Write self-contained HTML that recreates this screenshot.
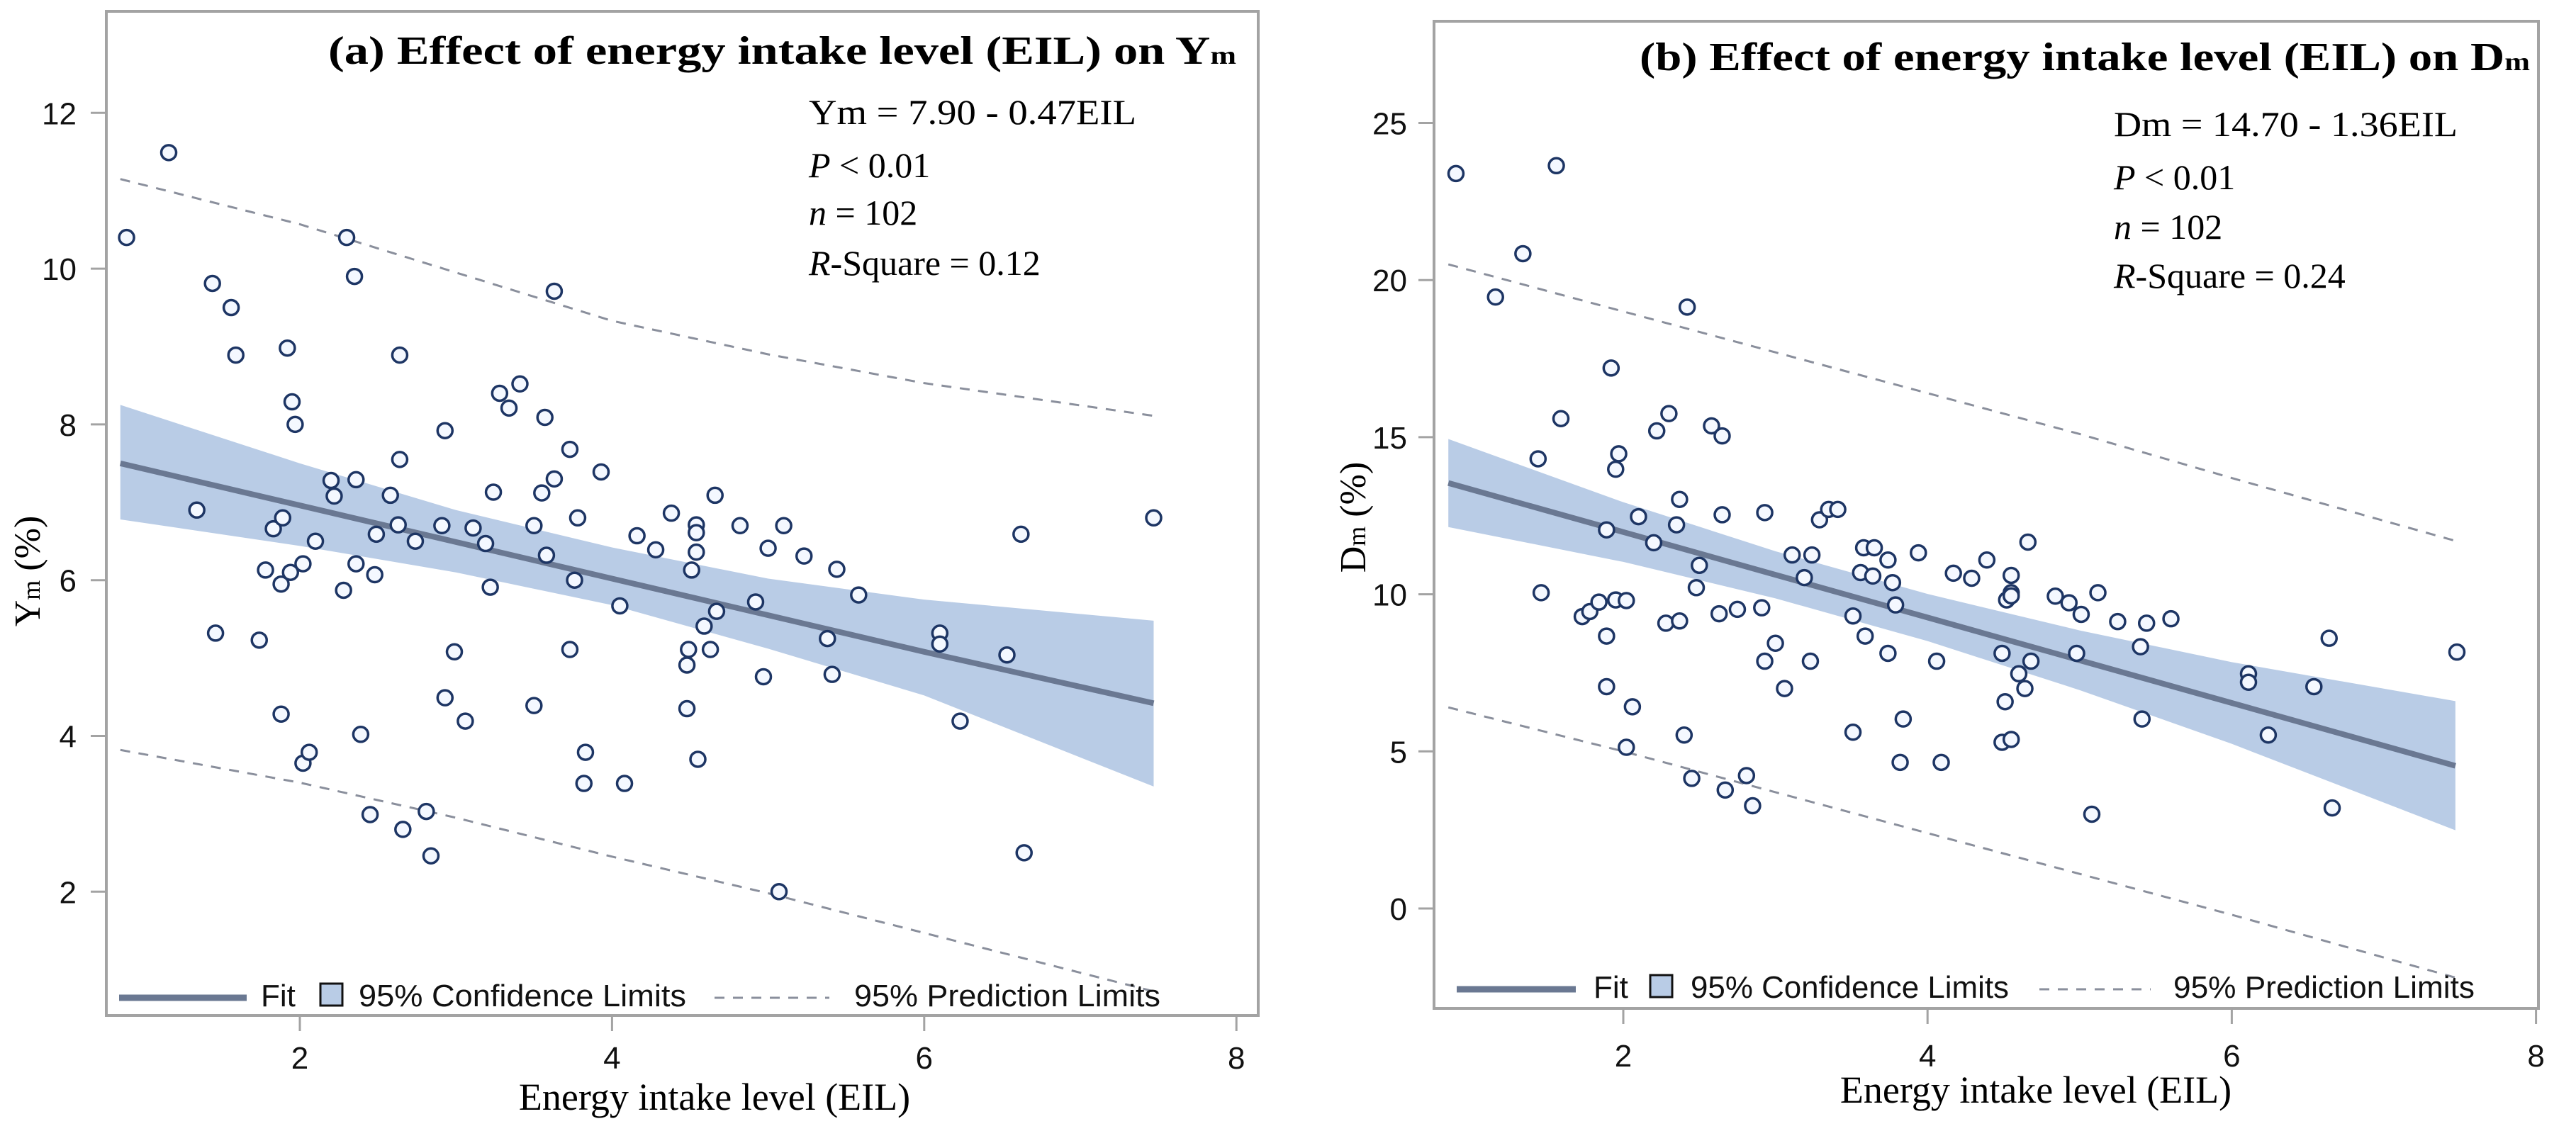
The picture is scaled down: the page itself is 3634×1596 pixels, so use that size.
<!DOCTYPE html>
<html><head><meta charset="utf-8"><style>
html,body{margin:0;padding:0;background:#fff;}
svg{display:block;}
</style></head><body>
<svg id="chart" width="3634" height="1596" viewBox="0 0 3634 1596" xmlns="http://www.w3.org/2000/svg">
<rect width="3634" height="1596" fill="#fff"/>
<defs>
<clipPath id="clipA"><rect x="152" y="18" width="1621" height="1413"/></clipPath>
<clipPath id="clipB"><rect x="2025" y="32" width="1554" height="1389"/></clipPath>
</defs>
<g id="panelA"></g>
<g id="panelB"></g>

<text x="463" y="90" font-family="Liberation Serif, serif" font-weight="bold" font-size="56" textLength="1281" lengthAdjust="spacingAndGlyphs">(a) Effect of energy intake level (EIL) on Y<tspan font-size="36">m</tspan></text>
<g font-family="Liberation Serif, serif" font-size="50" fill="#000">
<text x="1141" y="175" textLength="462" lengthAdjust="spacingAndGlyphs">Ym = 7.90 - 0.47EIL</text>
<text x="1141" y="250"><tspan font-style="italic">P</tspan> &lt; 0.01</text>
<text x="1141" y="317"><tspan font-style="italic">n</tspan> = 102</text>
<text x="1141" y="388"><tspan font-style="italic">R</tspan>-Square = 0.12</text>
</g>
<text transform="translate(56,806) rotate(-90)" text-anchor="middle" font-family="Liberation Serif, serif" font-size="52">Y<tspan font-size="36">m</tspan> (%)</text>
<text x="1008" y="1566" text-anchor="middle" font-family="Liberation Serif, serif" font-size="54">Energy intake level (EIL)</text>

<text x="2313" y="99" font-family="Liberation Serif, serif" font-weight="bold" font-size="56" textLength="1256" lengthAdjust="spacingAndGlyphs">(b) Effect of energy intake level (EIL) on D<tspan font-size="36">m</tspan></text>
<g font-family="Liberation Serif, serif" font-size="50" fill="#000">
<text x="2982" y="192" textLength="485" lengthAdjust="spacingAndGlyphs">Dm = 14.70 - 1.36EIL</text>
<text x="2982" y="267"><tspan font-style="italic">P</tspan> &lt; 0.01</text>
<text x="2982" y="337"><tspan font-style="italic">n</tspan> = 102</text>
<text x="2982" y="406"><tspan font-style="italic">R</tspan>-Square = 0.24</text>
</g>
<text transform="translate(1926,730) rotate(-90)" text-anchor="middle" font-family="Liberation Serif, serif" font-size="52">D<tspan font-size="36">m</tspan> (%)</text>
<text x="2872" y="1556" text-anchor="middle" font-family="Liberation Serif, serif" font-size="54">Energy intake level (EIL)</text>
</svg>
<script>
// ---------- data ----------
const xTicks = [2, 4, 6, 8];
const yTicksA = [2, 4, 6, 8, 10, 12];
const yTicksB = [0, 5, 10, 15, 20, 25];

const eilA = [0.89,1.16,1.34,1.44,1.46,1.56,1.59,1.74,1.78,1.83,1.89,1.88,1.88,1.92,1.94,1.95,1.97,2.02,2.02,2.06,2.10,2.20,2.22,2.28,2.30,2.35,2.36,2.36,2.39,2.45,2.48,2.49,2.58,2.63,2.64,2.64,2.66,2.74,2.81,2.84,2.91,2.93,2.93,2.99,3.06,3.11,3.19,3.22,3.24,3.28,3.34,3.41,3.50,3.50,3.55,3.57,3.58,3.63,3.63,3.73,3.73,3.76,3.78,3.82,3.83,3.93,4.05,4.08,4.16,4.28,4.38,4.48,4.48,4.49,4.51,4.54,4.54,4.54,4.55,4.59,4.63,4.66,4.67,4.82,4.92,4.97,5.00,5.07,5.10,5.23,5.38,5.41,5.44,5.58,6.10,6.10,6.23,6.53,6.62,6.64,7.47];
const ymA = [10.40,11.49,6.90,9.81,5.32,9.50,8.89,5.23,6.13,6.66,6.80,5.95,4.28,8.98,6.10,8.29,8.00,3.65,6.21,3.79,6.50,7.28,7.08,5.87,10.40,9.90,7.29,6.21,4.02,2.99,6.07,6.59,7.09,6.71,7.55,8.89,2.80,6.50,3.03,2.46,6.70,7.92,4.49,5.08,4.19,6.67,6.47,5.91,7.13,8.40,8.21,8.52,6.70,4.39,7.12,8.09,6.32,7.30,9.71,5.11,7.68,6.00,6.80,3.39,3.79,7.39,5.67,3.39,6.57,6.39,6.86,4.91,4.35,5.11,6.13,6.71,6.61,6.36,3.70,5.41,5.11,7.09,5.60,6.70,5.72,4.76,6.41,2.00,6.70,6.31,5.25,4.79,6.14,5.81,5.32,5.18,4.19,5.04,6.59,2.50,6.80];

const eilB = [0.90,1.16,1.34,1.44,1.46,1.56,1.59,1.73,1.78,1.84,1.89,1.89,1.89,1.92,1.95,1.95,1.97,2.02,2.02,2.06,2.10,2.20,2.22,2.28,2.30,2.37,2.35,2.37,2.40,2.42,2.45,2.48,2.50,2.58,2.63,2.65,2.65,2.67,2.75,2.81,2.85,2.91,2.93,2.93,3.00,3.06,3.11,3.19,3.23,3.24,3.29,3.35,3.41,3.51,3.51,3.56,3.58,3.59,3.64,3.65,3.74,3.74,3.77,3.79,3.82,3.84,3.94,4.06,4.09,4.17,4.29,4.39,4.49,4.49,4.51,4.52,4.55,4.55,4.55,4.60,4.64,4.66,4.68,4.84,4.93,4.98,5.01,5.08,5.12,5.25,5.40,5.41,5.44,5.60,6.11,6.11,6.24,6.54,6.64,6.66,7.48,4.55];
const dmB = [23.39,19.46,20.84,14.31,10.05,23.64,15.59,9.29,9.45,9.75,12.05,8.67,7.06,17.20,9.82,13.98,14.47,5.13,9.80,6.42,12.47,11.64,15.20,9.08,15.75,13.02,12.21,9.15,5.52,19.14,4.14,10.21,10.92,15.36,9.38,15.04,12.53,3.77,9.52,4.23,3.27,9.57,12.60,7.87,8.44,7.00,11.25,10.53,7.87,11.25,12.37,12.70,12.70,9.31,5.61,10.69,11.48,8.67,10.58,11.48,8.12,11.09,10.37,9.66,4.65,6.03,11.32,7.87,4.65,10.67,10.51,11.09,8.12,5.29,6.58,9.82,10.05,10.60,5.38,7.47,7.00,11.66,7.87,9.94,9.73,8.12,9.36,3.00,10.05,9.13,8.33,6.03,9.08,9.22,7.47,7.20,5.52,7.06,8.60,3.20,8.16,9.95];

const bandX = [0.85, 2, 3, 4, 5, 6, 7.47];
const fitA = [7.50, 6.96, 6.49, 6.02, 5.55, 5.08, 4.42];
const ciUpA = [8.25, 7.50, 6.90, 6.42, 6.02, 5.75, 5.48];
const ciLoA = [6.78, 6.44, 6.10, 5.68, 5.12, 4.52, 3.35];
const piUpA = [11.15, 10.57, 9.95, 9.33, 8.90, 8.53, 8.11];
const piLoA = [3.82, 3.40, 2.95, 2.45, 1.98, 1.47, 0.72];

const fitB = [13.54, 11.98, 10.62, 9.26, 7.90, 6.54, 4.54];
const ciUpB = [14.94, 12.93, 11.37, 10.01, 8.85, 7.84, 6.60];
const ciLoB = [12.14, 11.03, 9.87, 8.51, 6.95, 5.24, 2.49];
const piUpB = [20.5, 19.0, 17.7, 16.4, 15.1, 13.7, 11.7];
const piLoB = [6.4, 5.0, 3.7, 2.4, 1.1, -0.2, -2.2];

// ---------- drawing ----------
const NS = 'http://www.w3.org/2000/svg';
function mk(tag, attrs, parent) {
  const e = document.createElementNS(NS, tag);
  for (const k in attrs) e.setAttribute(k, attrs[k]);
  parent.appendChild(e);
  return e;
}

function drawPanel(g, cfg) {
  const X = v => cfg.x0 + (v - cfg.xv0) * cfg.xs;
  const Y = v => cfg.y0 - (v - cfg.yv0) * cfg.ys;
  const plot = mk('g', {'clip-path': cfg.clip}, g);
  
  

  // confidence band
  let d = bandX.map((x, i) => (i ? 'L' : 'M') + X(x) + ',' + Y(cfg.ciUp[i])).join(' ');
  for (let i = bandX.length - 1; i >= 0; i--) d += ' L' + X(bandX[i]) + ',' + Y(cfg.ciLo[i]);
  const band = mk('path', {d: d + ' Z', fill: '#b9cce6', stroke: 'none'}, plot);
  
  

  // prediction limits
  [['upper', cfg.piUp], ['lower', cfg.piLo]].forEach(([nm, arr]) => {
    const p = mk('polyline', {points: bandX.map((x, i) => X(x) + ',' + Y(arr[i])).join(' '), fill: 'none', stroke: '#8a8f9c', 'stroke-width': 3, 'stroke-dasharray': '14 12'}, plot);
    
    
  });

  // fit line
  const fl = mk('polyline', {points: bandX.map((x, i) => X(x) + ',' + Y(cfg.fit[i])).join(' '), fill: 'none', stroke: '#6a7892', 'stroke-width': 8}, plot);
  
  

  // points
  cfg.xs_.forEach((x, i) => {
    const c = mk('circle', {cx: X(x), cy: Y(cfg.ys_[i]), r: 10.5, fill: '#f4f8ff', stroke: '#1d3564', 'stroke-width': 3.5}, plot);
    
    
  });

  // frame
  const fr = mk('rect', {x: cfg.fx, y: cfg.fy, width: cfg.fw, height: cfg.fh, fill: 'none', stroke: '#a3a3a3', 'stroke-width': 4}, g);
  
  

  // x ticks
  const fb = cfg.fy + cfg.fh;
  xTicks.forEach(t => {
    const l = mk('line', {x1: X(t), x2: X(t), y1: fb, y2: fb + 22, stroke: '#a3a3a3', 'stroke-width': 3}, g);
    
    
    const tx = mk('text', {x: X(t), y: cfg.xLabY, 'text-anchor': 'middle', 'font-family': 'Liberation Sans, sans-serif', 'font-size': 44, fill: '#111'}, g);
    
    
    tx.textContent = t;
  });
  // y ticks
  cfg.yTicks.forEach(t => {
    const l = mk('line', {x1: cfg.fx - 22, x2: cfg.fx, y1: Y(t), y2: Y(t), stroke: '#a3a3a3', 'stroke-width': 3}, g);
    
    
    const tx = mk('text', {x: cfg.yLabX, y: Y(t) + 16, 'text-anchor': 'end', 'font-family': 'Liberation Sans, sans-serif', 'font-size': 44, fill: '#111'}, g);
    
    
    tx.textContent = t;
  });

  // legend
  const L = cfg.leg;
  const lg = mk('g', {}, g);
  
  
  mk('line', {x1: L.l1, x2: L.l2, y1: L.y - 12, y2: L.y - 12, stroke: '#6a7892', 'stroke-width': 9}, lg);
  const t1 = mk('text', {x: L.fit, y: L.y, 'font-family': 'Liberation Sans, sans-serif', 'font-size': 44, fill: '#111'}, lg);
  t1.textContent = 'Fit';
  mk('rect', {x: L.sq, y: L.y - 32, width: 31, height: 31, fill: '#b9cce6', stroke: '#111', 'stroke-width': 3}, lg);
  const t2 = mk('text', {x: L.ci, y: L.y, 'font-family': 'Liberation Sans, sans-serif', 'font-size': 44, fill: '#111', textLength: L.ciW, lengthAdjust: 'spacingAndGlyphs'}, lg);
  t2.textContent = '95% Confidence Limits';
  mk('line', {x1: L.d1, x2: L.d2, y1: L.y - 12, y2: L.y - 12, stroke: '#8a8f9c', 'stroke-width': 3, 'stroke-dasharray': '14 12'}, lg);
  const t3 = mk('text', {x: L.pi, y: L.y, 'font-family': 'Liberation Sans, sans-serif', 'font-size': 44, fill: '#111', textLength: L.piW, lengthAdjust: 'spacingAndGlyphs'}, lg);
  t3.textContent = '95% Prediction Limits';
}

drawPanel(document.getElementById('panelA'), {
  id: 'panel-a', clip: 'url(#clipA)',
  x0: 423, xv0: 2, xs: 220.2, y0: 1258.3, yv0: 2, ys: 109.9,
  fx: 150, fy: 16, fw: 1625, fh: 1417, xLabY: 1508, yLabX: 108,
  yTicks: yTicksA, xs_: eilA, ys_: ymA,
  fit: fitA, ciUp: ciUpA, ciLo: ciLoA, piUp: piUpA, piLo: piLoA,
  leg: {y: 1420, l1: 168, l2: 348, fit: 368, sq: 452, ci: 506, ciW: 462, d1: 1008, d2: 1170, pi: 1205, piW: 432}
});
drawPanel(document.getElementById('panelB'), {
  id: 'panel-b', clip: 'url(#clipB)',
  x0: 2290, xv0: 2, xs: 214.6, y0: 1282, yv0: 0, ys: 44.34,
  fx: 2023, fy: 30, fw: 1558, fh: 1393, xLabY: 1505, yLabX: 1985,
  yTicks: yTicksB, xs_: eilB, ys_: dmB,
  fit: fitB, ciUp: ciUpB, ciLo: ciLoB, piUp: piUpB, piLo: piLoB,
  leg: {y: 1408, l1: 2055, l2: 2223, fit: 2248, sq: 2328, ci: 2385, ciW: 449, d1: 2877, d2: 3034, pi: 3066, piW: 425}
});
</script>
</body></html>
